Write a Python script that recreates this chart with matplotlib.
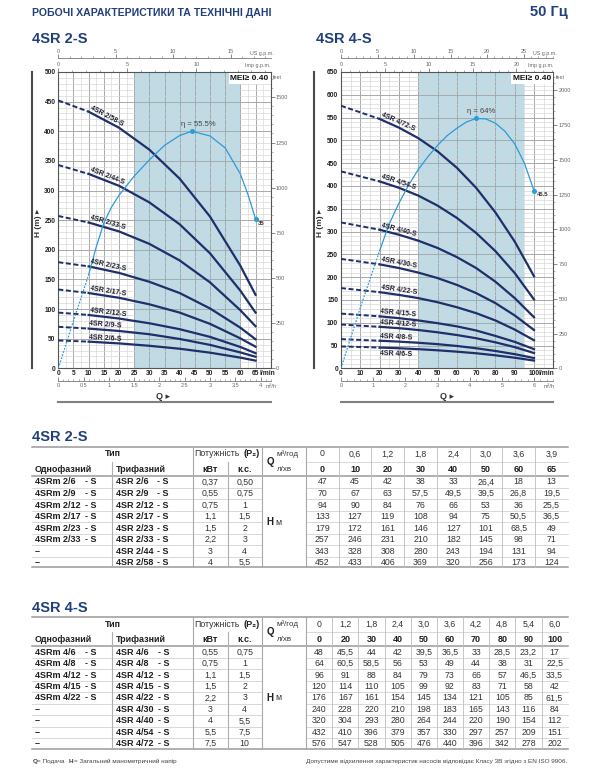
import matplotlib
matplotlib.use("Agg")
import matplotlib.pyplot as plt
import numpy as np

plt.rcParams['font.family'] = ['Liberation Sans', 'DejaVu Sans']
NARROW = ['Liberation Sans Narrow', 'Liberation Sans', 'DejaVu Sans']

NAVY = '#1e2f6a'
TITLE_BLUE = '#213f7d'
ETA_BLUE = '#2c9bd6'
SHADE = '#bddce8'
GRID_MAJ = '#a9a9a9'
GRID_MIN = '#d4d4d4'

# ---------- 4SR 2-S data
q2_lmin = [0, 10, 20, 30, 40, 50, 60, 65]
q2_m3h = ['0', '0,6', '1,2', '1,8', '2,4', '3,0', '3,6', '3,9']
pumps2_1ph = ['4SRm 2/6', '4SRm 2/9', '4SRm 2/12', '4SRm 2/17', '4SRm 2/23', '4SRm 2/33', '–', '–']
pumps2_3ph = ['4SR 2/6', '4SR 2/9', '4SR 2/12', '4SR 2/17', '4SR 2/23', '4SR 2/33', '4SR 2/44', '4SR 2/58']
kw2 = ['0,37', '0,55', '0,75', '1,1', '1,5', '2,2', '3', '4']
hp2 = ['0,50', '0,75', '1', '1,5', '2', '3', '4', '5,5']
h2 = [
    [47, 45, 42, 38, 33, 26.4, 18, 13],
    [70, 67, 63, 57.5, 49.5, 39.5, 26.8, 19.5],
    [94, 90, 84, 76, 66, 53, 36, 25.5],
    [133, 127, 119, 108, 94, 75, 50.5, 36.5],
    [179, 172, 161, 146, 127, 101, 68.5, 49],
    [257, 246, 231, 210, 182, 145, 98, 71],
    [343, 328, 308, 280, 243, 194, 131, 94],
    [452, 433, 406, 369, 320, 256, 173, 124],
]
# efficiency curve (%)
eta2_q = [0, 5, 10, 12.5, 15, 17.5, 20, 25, 30, 35, 40, 44, 50, 55, 60, 62.5, 65]
eta2 = [0, 11.1, 21.9, 28.4, 34.0, 37.7, 40.5, 45.0, 48.8, 52.2, 54.5, 55.5, 54.4, 51.6, 45.5, 40.7, 35.0]
eta2_peak_h = 400

# ---------- 4SR 4-S data
q4_lmin = [0, 20, 30, 40, 50, 60, 70, 80, 90, 100]
q4_m3h = ['0', '1,2', '1,8', '2,4', '3,0', '3,6', '4,2', '4,8', '5,4', '6,0']
pumps4_1ph = ['4SRm 4/6', '4SRm 4/8', '4SRm 4/12', '4SRm 4/15', '4SRm 4/22', '–', '–', '–', '–']
pumps4_3ph = ['4SR 4/6', '4SR 4/8', '4SR 4/12', '4SR 4/15', '4SR 4/22', '4SR 4/30', '4SR 4/40', '4SR 4/54', '4SR 4/72']
kw4 = ['0,55', '0,75', '1,1', '1,5', '2,2', '3', '4', '5,5', '7,5']
hp4 = ['0,75', '1', '1,5', '2', '3', '4', '5,5', '7,5', '10']
h4 = [
    [48, 45.5, 44, 42, 39.5, 36.5, 33, 28.5, 23.2, 17],
    [64, 60.5, 58.5, 56, 53, 49, 44, 38, 31, 22.5],
    [96, 91, 88, 84, 79, 73, 66, 57, 46.5, 33.5],
    [120, 114, 110, 105, 99, 92, 83, 71, 58, 42],
    [176, 167, 161, 154, 145, 134, 121, 105, 85, 61.5],
    [240, 228, 220, 210, 198, 183, 165, 143, 116, 84],
    [320, 304, 293, 280, 264, 244, 220, 190, 154, 112],
    [432, 410, 396, 379, 357, 330, 297, 257, 209, 151],
    [576, 547, 528, 505, 476, 440, 396, 342, 278, 202],
]
eta4_q = [0, 10, 20, 25, 30, 35, 40, 45, 50, 55, 60, 65, 70, 75, 80, 85, 90, 95, 100]
eta4 = [0, 15.5, 30.1, 37.0, 42.3, 46.9, 50.9, 54.2, 57.1, 59.6, 61.5, 63.1, 64.0, 63.9, 62.8, 60.7, 57.5, 52.6, 45.5]
eta4_peak_h = 548

LPM_US = 3.78541
LPM_IMP = 4.54609
M_FT = 3.28084


def fmt(v):
    return str(int(v)) if v == int(v) else str(v).replace('.', ',')


fig = plt.figure(figsize=(6, 7.7), dpi=100)
bg = fig.add_axes([0, 0, 1, 1])
bg.set_xlim(0, 600)
bg.set_ylim(770, 0)
bg.axis('off')


def px_rect(x0, y0, x1, y1):
    return [x0 / 600, 1 - y1 / 770, (x1 - x0) / 600, (y1 - y0) / 770]


def chart(box, q, heads, names, q_solid, xmax, ymax, xmaj, xmin, shade,
          eta_q, eta, eta_dot, peak_h, peak_txt_xy, end_txt_xy,
          us_ticks, us_max, imp_ticks, imp_max, m3_ticks, m3_minor, m3_max,
          ft_ticks, ft_max, below):
    ax = fig.add_axes(px_rect(*box))
    ax.set_xlim(0, xmax)
    ax.set_ylim(0, ymax)
    ax.axvspan(shade[0], shade[1], color=SHADE, lw=0, zorder=0)

    xt = np.arange(0, q[-1] + 0.1, xmaj)
    ax.set_xticks(xt, labels=[str(int(v)) for v in xt], fontsize=4.8, fontweight='bold', color='#222')
    ax.set_xticks(np.arange(0, xmax + 0.1, xmin), minor=True)
    yt = np.arange(0, ymax + 1, 50)
    ax.set_yticks(yt, labels=[str(int(v)) for v in yt], fontsize=4.8, fontweight='bold', color='#222')
    ax.set_yticks(np.arange(0, ymax + 1, 10), minor=True)
    ax.grid(which='major', color=GRID_MAJ, lw=0.7)
    ax.grid(which='minor', color=GRID_MIN, lw=0.45)
    ax.tick_params(which='both', length=0)
    ax.tick_params(axis='x', pad=1.5)
    ax.tick_params(axis='y', pad=2)
    for s in ax.spines.values():
        s.set_color('#555')
        s.set_linewidth(0.8)

    k0 = q.index(q_solid)
    for name, h in zip(names, heads):
        ax.plot(q[:k0 + 1], h[:k0 + 1], color=NAVY, lw=1.4, ls=(0, (2.6, 1.3)), zorder=3)
        ax.plot(q[k0:], h[k0:], color=NAVY, lw=1.6, zorder=3)
        p0 = ax.transData.transform((q[k0], h[k0]))
        p1 = ax.transData.transform((q[k0 + 1], h[k0 + 1]))
        ang = np.degrees(np.arctan2(p1[1] - p0[1], p1[0] - p0[0]))
        low = name in below
        ax.annotate(name + '-S', (q[k0], h[k0]), xytext=(0.5, -1.5 if low else 0.8),
                    textcoords='offset points', rotation=ang, rotation_mode='anchor',
                    ha='left', va='top' if low else 'bottom', fontsize=5, fontweight='bold',
                    color='#1a1d2e', zorder=6, family=NARROW)

    k = peak_h / max(eta)
    eh = [v * k for v in eta]
    kd = eta_q.index(eta_dot)
    ax.plot(eta_q[:kd + 1], eh[:kd + 1], color=ETA_BLUE, lw=0.9, ls=(0, (1.4, 1.2)), zorder=4)
    ax.plot(eta_q[kd:], eh[kd:], color=ETA_BLUE, lw=0.9, zorder=4)
    ip = int(np.argmax(eta))
    ax.plot([eta_q[ip], eta_q[-1]], [eh[ip], eh[-1]], 'o', ms=2.6, color=ETA_BLUE, zorder=5)
    ax.text(peak_txt_xy[0], peak_txt_xy[1], f'η = {eta[ip]:g}%', fontsize=5.5, color='#444',
            ha='center', va='center', zorder=6)
    ax.text(end_txt_xy[0], end_txt_xy[1], f'{eta[-1]:g}', fontsize=4.3, fontweight='bold',
            color='#333', ha='left', va='center', zorder=6)

    ax.text(0.99, 0.99, 'MEI≥ 0.40', transform=ax.transAxes, ha='right', va='top',
            fontsize=6, fontweight='bold', color='#111', zorder=7,
            bbox=dict(fc='white', ec='none', pad=1.2))

    # top flow scales
    us = ax.secondary_xaxis(1.0456, functions=(lambda x: x / LPM_US, lambda x: x * LPM_US))
    imp = ax.secondary_xaxis('top', functions=(lambda x: x / LPM_IMP, lambda x: x * LPM_IMP))
    for sec, ticks, mx in ((us, us_ticks, us_max), (imp, imp_ticks, imp_max)):
        sec.set_xticks(ticks, labels=[str(t) for t in ticks])
        sec.set_xticks(np.arange(0, mx + 0.1, 1), minor=True)
        sec.tick_params(which='major', length=2.8, width=0.6, color='#777', labelsize=4,
                        labelcolor='#666', pad=0.6)
        sec.tick_params(which='minor', length=1.5, width=0.5, color='#888')
        for sp in sec.spines.values():
            sp.set_color('#888')
            sp.set_linewidth(0.7)
    ax.text(1.014, 1.063, 'US g.p.m.', transform=ax.transAxes, ha='right', va='center',
            fontsize=3.9, color='#666')
    ax.text(1.0, 1.021, 'Imp g.p.m.', transform=ax.transAxes, ha='right', va='center',
            fontsize=3.9, color='#666')

    # bottom m3/h scale
    m3 = ax.secondary_xaxis(-0.042, functions=(lambda x: x * 0.06, lambda x: x / 0.06))
    m3.set_xticks(m3_ticks, labels=[f'{t:g}' for t in m3_ticks])
    m3.set_xticks(np.arange(0, m3_max + 0.01, m3_minor), minor=True)
    m3.tick_params(which='major', direction='in', length=2.6, width=0.6, color='#777',
                   labelsize=4, labelcolor='#666', pad=1.5)
    m3.tick_params(which='minor', direction='in', length=1.5, width=0.5, color='#888')
    for sp in m3.spines.values():
        sp.set_color('#888')
        sp.set_linewidth(0.7)

    # right feet scale
    ft = ax.secondary_yaxis('right', functions=(lambda h: h * M_FT, lambda f: f / M_FT))
    ft.set_yticks(ft_ticks, labels=[str(t) for t in ft_ticks])
    ft.set_yticks(np.arange(0, ft_max + 1, 50), minor=True)
    ft.tick_params(which='major', length=2.8, width=0.6, color='#777', labelsize=4,
                   labelcolor='#666', pad=1)
    ft.tick_params(which='minor', length=1.4, width=0.5, color='#999')
    ft.spines['right'].set_visible(False)
    ax.text(1.01, 0.99, 'feet', transform=ax.transAxes, ha='left', va='top', fontsize=3.9, color='#666')
    return ax


# ---------- page headers
bg.text(32.3, 12.7, 'РОБОЧІ ХАРАКТЕРИСТИКИ ТА ТЕХНІЧНІ ДАНІ', fontsize=7.6, fontweight='bold',
        color=TITLE_BLUE, va='center', ha='left', family=NARROW)
bg.text(567.5, 12, '50 Гц', fontsize=10.5, fontweight='bold', color=TITLE_BLUE, va='center', ha='right')
bg.text(32.3, 39.3, '4SR 2-S', fontsize=10.5, fontweight='bold', color=TITLE_BLUE, va='center')
bg.text(316.5, 39.3, '4SR 4-S', fontsize=10.5, fontweight='bold', color=TITLE_BLUE, va='center')

ax2 = chart((58.3, 72, 270.7, 368.3), q2_lmin, h2, pumps2_3ph, 10, 70, 500, 5, 2.5, (25, 60),
            eta2_q, eta2, 10, eta2_peak_h, (46, 412), (65.9, 245),
            [0, 5, 10, 15], 18, [0, 5, 10], 15, np.arange(0, 4.01, 0.5), 0.1, 4.2,
            [0, 250, 500, 750, 1000, 1250, 1500], 1640, [])
ax2.text(66.3, -0.006, 'l/min', transform=ax2.get_xaxis_transform(), fontsize=4.8,
         fontweight='bold', color='#222', va='top', ha='left')
ax2.text(68.2, -0.062, 'm³/h', transform=ax2.get_xaxis_transform(), fontsize=4, color='#666',
         va='center', ha='left', clip_on=False)

ax4 = chart((341, 72, 553.3, 368.3), q4_lmin, h4, pumps4_3ph, 20, 110, 650, 10, 5, (40, 95),
            eta4_q, eta4, 20, eta4_peak_h, (72.6, 564), (101.5, 381),
            [0, 5, 10, 15, 20, 25], 29, [0, 5, 10, 15, 20], 24, np.arange(0, 6.01, 1), 0.2, 6.6,
            [0, 250, 500, 750, 1000, 1250, 1500, 1750, 2000], 2130, ['4SR 4/6'])
ax4.text(102.5, -0.006, 'l/min', transform=ax4.get_xaxis_transform(), fontsize=4.8,
         fontweight='bold', color='#222', va='top', ha='left')
ax4.text(105, -0.062, 'm³/h', transform=ax4.get_xaxis_transform(), fontsize=4, color='#666',
         va='center', ha='left', clip_on=False)

for xbar, xl, xr, xq in ((32.3, 58.3, 270.7, 163), (314.3, 341, 553.3, 447)):
    bg.plot([xbar, xbar], [71.5, 368.3], color='#4a4a4a', lw=1.5)
    bg.plot([xl, xr], [402.3, 402.3], color='#808080', lw=1.5)
    bg.text(xq, 396.5, 'Q ▸', fontsize=6.5, fontweight='bold', color='#333', ha='center', va='center')
    bg.text(xbar + 6, 223, 'H (m) ▸', fontsize=6, fontweight='bold', color='#333', ha='center',
            va='center', rotation=90)


# ---------- tables
def table(title, ty, top, h1, h2_, hline, r0, step, bot, one, three, kw, hp, qm3, ql, heads, d1, d2):
    L, R = 32.3, 567.7
    s1, s2, s3, s4, s5 = 112.3, 193.3, 227.7, 261.7, 306.0
    n = len(ql)
    w = (R - s5) / n
    hm = (h1 + h2_) / 2
    bg.text(L, ty, title, fontsize=10.5, fontweight='bold', color=TITLE_BLUE, va='center')
    for y in (top, hline, bot):
        bg.plot([L, R], [y, y], color='#9a9a9a', lw=1.1)
    rows = [r0 + i * step for i in range(len(three))]
    for y in rows[:-1]:
        yy = y + step / 2
        bg.plot([L, s4], [yy, yy], color='#d2d2d2', lw=0.6)
        bg.plot([s5, R], [yy, yy], color='#d2d2d2', lw=0.6)
    bg.plot([s5, R], [hm, hm], color='#d2d2d2', lw=0.6)
    bg.plot([s1, s1], [hm, bot], color='#b0b0b0', lw=0.8)
    bg.plot([s3, s3], [hm, bot], color='#b0b0b0', lw=0.8)
    for x in (s2, s4, s5):
        bg.plot([x, x], [top, bot], color='#a8a8a8', lw=0.8)
    for j in range(1, n):
        x = s5 + j * w
        bg.plot([x, x], [top, bot], color='#bdbdbd', lw=0.6)

    bold = dict(fontsize=6.5, fontweight='bold', color='#1e1e1e', va='center')
    reg = dict(fontsize=6.3, color='#333', va='center')
    bg.text((L + s2) / 2, h1, 'Тип', ha='center', **bold)
    bg.text(L + 2.7, h2_, 'Однофазний', ha='left', **bold)
    bg.text(s1 + 3.4, h2_, 'Трифазний', ha='left', **bold)
    bg.text(s2 + 1.0, h1, 'Потужність', ha='left', **reg)
    bg.text(243.8, h1, '(P₂)', ha='left', **bold)
    bg.text((s2 + s3) / 2, h2_, 'кВт', ha='center', **bold)
    bg.text((s3 + s4) / 2, h2_, 'к.с.', ha='center', **bold)
    bg.text(266.2, hm, 'Q', ha='left', fontsize=7, fontweight='bold', color='#1e1e1e', va='center')
    bg.text(276.5, h1, 'м³/год', ha='left', fontsize=5.8, color='#333', va='center')
    bg.text(276.5, h2_, 'л/хв', ha='left', fontsize=5.8, color='#333', va='center')
    for j in range(n):
        xc = s5 + (j + 0.5) * w
        bg.text(xc, h1, qm3[j], ha='center', **reg)
        bg.text(xc, h2_, str(ql[j]), ha='center', **bold)
    for i, y in enumerate(rows):
        if one[i] == '–':
            bg.text(L + 2.7, y, '–', ha='left', **bold)
        else:
            bg.text(L + 2.7, y, one[i], ha='left', **bold)
            bg.text(d1, y, '- S', ha='right', **bold)
        bg.text(s1 + 3.4, y, three[i], ha='left', **bold)
        bg.text(d2, y, '- S', ha='right', **bold)
        bg.text((s2 + s3) / 2, y, kw[i], ha='center', **reg)
        bg.text((s3 + s4) / 2, y, hp[i], ha='center', **reg)
        for j in range(n):
            bg.text(s5 + (j + 0.5) * w, y, fmt(heads[i][j]), ha='center', **reg)
    ym = (rows[0] + rows[-1]) / 2
    bg.text(266.2, ym, 'H', ha='left', fontsize=7, fontweight='bold', color='#1e1e1e', va='center')
    bg.text(275.5, ym, 'м', ha='left', fontsize=6.3, color='#333', va='center')


table('4SR 2-S', 437, 446.7, 454, 469.3, 475.7, 482, 11.52, 567.3,
      pumps2_1ph, pumps2_3ph, kw2, hp2, q2_m3h, q2_lmin, h2, 96.7, 168.3)
table('4SR 4-S', 607.7, 616.7, 624.3, 639.3, 645.7, 652.3, 11.42, 749,
      pumps4_1ph, pumps4_3ph, kw4, hp4, q4_m3h, q4_lmin, h4, 96.7, 169.3)

# ---------- footer
foot = dict(fontsize=4.6, color='#444', va='center')
bg.text(32.3, 761.7, 'Q', fontweight='bold', **foot)
bg.text(36.7, 761.7, '= Подача', **foot)
bg.text(68.3, 761.7, 'H', fontweight='bold', **foot)
bg.text(74.5, 761.7, '= Загальний манометричний напір', **foot)
bg.text(567.7, 761.7, 'Допустиме відхилення характеристик насосів відповідає Класу 3В згідно з EN ISO 9906.',
        ha='right', **foot)

fig.savefig('out.png', dpi=100)
